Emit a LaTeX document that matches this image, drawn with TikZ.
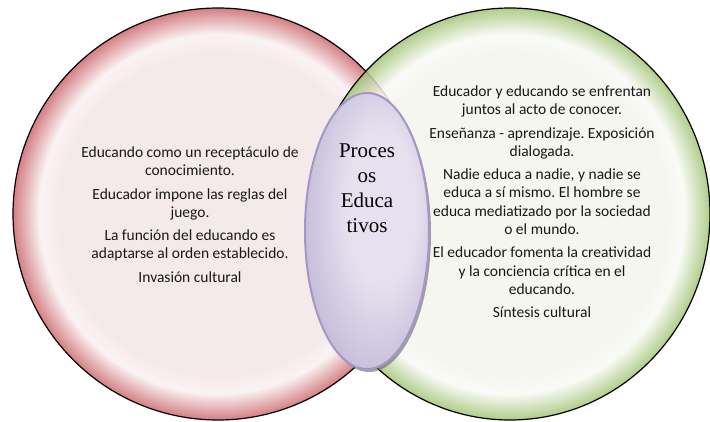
\documentclass[tikz,border=0pt]{standalone}
\usepackage{fontspec}
\setmainfont{Carlito}
\newfontfamily\titlefont{Liberation Serif}
\usepackage{tikz}
\usetikzlibrary{shapes.geometric,shadows,positioning}
\definecolor{rose-in}{HTML}{F5EAEA}
\definecolor{rose-glow}{HTML}{FAF3F3}
\definecolor{rose-rim}{HTML}{D47F84}
\definecolor{sage-in}{HTML}{F3F5EC}
\definecolor{sage-glow}{HTML}{F9FAF5}
\definecolor{sage-rim}{HTML}{A2C476}
\definecolor{lilac-in}{HTML}{E6E1EF}
\definecolor{lilac-out}{HTML}{C3B9D8}
\definecolor{lilac-line}{HTML}{A596C8}
\pgfdeclareradialshading{rose-bevel}{\pgfpoint{0bp}{0bp}}{color(0bp)=(rose-in); color(19.5bp)=(rose-in); color(21.8bp)=(rose-glow); color(25bp)=(rose-rim); color(50bp)=(rose-rim)}
\pgfdeclareradialshading{sage-bevel}{\pgfpoint{0bp}{0bp}}{color(0bp)=(sage-in); color(19.5bp)=(sage-in); color(21.8bp)=(sage-glow); color(25bp)=(sage-rim); color(50bp)=(sage-rim)}
\pgfdeclareradialshading{lilac-glow}{\pgfpoint{8bp}{6bp}}{color(0bp)=(lilac-in); color(14bp)=(lilac-in); color(31bp)=(lilac-out); color(50bp)=(lilac-out)}
\frenchspacing

\begin{document}
\begin{tikzpicture}[x=1pt, y=-1pt,
    venn/.style={ellipse, draw=black, line width=1.2pt, inner sep=0pt, minimum height=412pt},
    blurb/.style={align=center, inner sep=0pt, anchor=north, text=black!90,
        font=\fontsize{15.5}{18.3}\selectfont}]
    \useasboundingbox (0,0) rectangle (710,421);
    % the two sets
    \node[venn, shading=rose-bevel, minimum width=410pt] (bancaria) at (218,214) {};
    \node[venn, shading=sage-bevel, fill opacity=0.85, minimum width=400pt] (liberadora) at (510,214) {};
    % overlap
    \node[ellipse, draw=lilac-line, line width=2pt, shading=lilac-glow, inner sep=0pt,
        minimum width=124pt, minimum height=276pt,
        drop shadow={shadow xshift=2pt, shadow yshift=-3pt, fill=black!60, opacity=0.6}] (procesos) at (367,231) {};
    \node[align=center, inner sep=0pt, anchor=north, font=\titlefont\fontsize{21}{25}\selectfont] (titulo) at (367,144) {Proces\\os\\Educa\\tivos};
    % texts
    \node[blurb] (izquierda) at (190,146.5) {Educando como un receptáculo de\\conocimiento.\\[5pt]
        Educador impone las reglas del\\juego.\\[5pt]
        La función del educando es\\adaptarse al orden establecido.\\[5pt]
        Invasión cultural};
    \node[blurb] (derecha) at (542,85.5) {Educador y educando se enfrentan\\juntos al acto de conocer.\\[5pt]
        Enseñanza - aprendizaje. Exposición\\dialogada.\\[5pt]
        Nadie educa a nadie, y nadie se\\educa a sí mismo. El hombre se\\educa mediatizado por la sociedad\\o el mundo.\\[5pt]
        El educador fomenta la creatividad\\y la conciencia crítica en el\\educando.\\[5pt]
        Síntesis cultural};
\end{tikzpicture}
\end{document}
